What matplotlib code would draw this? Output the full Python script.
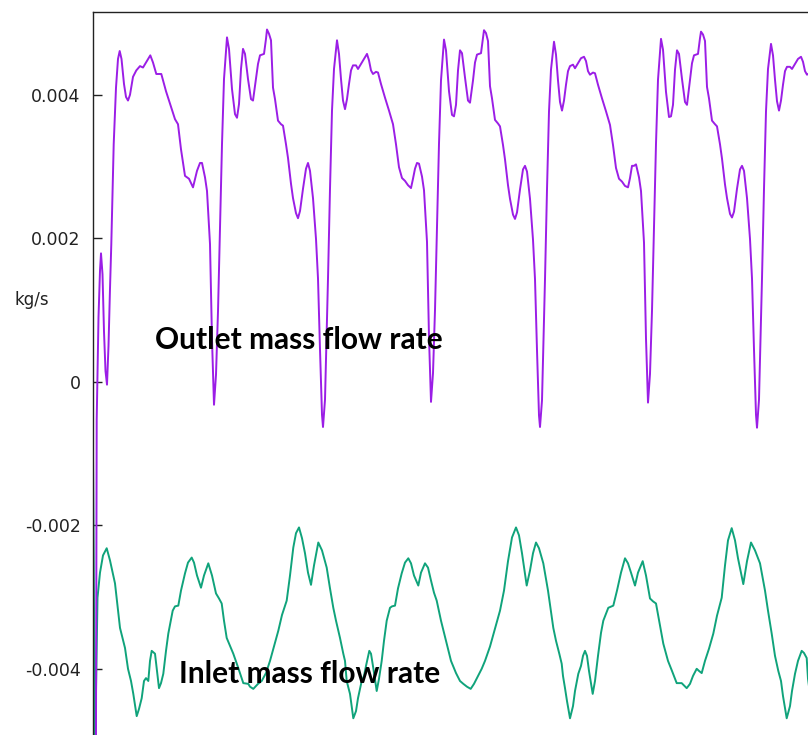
import numpy as np
import matplotlib
matplotlib.use("Agg")
import matplotlib.pyplot as plt

# ---------------- data (time in ms, flow in g/s -> converted to kg/s) ----------------
# Outlet mass flow rate (purple)
outlet_t_start = [0.0, 0.28, 0.37, 0.55, 0.7, 0.8, 0.95, 1.1, 1.25, 1.4,
                  1.55, 1.7, 1.83, 2.07, 2.3, 2.5, 2.67, 2.85, 3.1, 3.3,
                  3.5, 3.7, 4.0, 4.33, 4.7, 5.0, 5.3, 5.73, 6.0, 6.33,
                  6.83, 7.3, 7.83, 8.2, 8.5, 8.8, 9.2, 9.6, 10.0, 10.4]
outlet_v_start = [-6.5, -6.0, -0.53, 0.90, 1.55, 1.79, 1.50, 0.70, 0.15, -0.04,
                  0.50, 1.30, 1.92, 3.31, 4.10, 4.50, 4.61, 4.50, 4.15, 3.97,
                  3.92, 4.00, 4.25, 4.34, 4.40, 4.38, 4.45, 4.55, 4.45, 4.29,
                  4.29, 4.05, 3.82, 3.66, 3.59, 3.24, 2.87, 2.83, 2.71, 2.94]

outlet_t_c1 = [10.7, 10.9, 11.2, 11.4, 11.7, 11.9, 12.1, 12.3, 12.5, 12.7,
               12.9, 13.1, 13.4, 13.6, 13.9, 14.2, 14.4, 14.6, 14.8, 15.0,
               15.2, 15.5, 15.8, 16.0, 16.3, 16.5, 16.7, 17.1, 17.3, 17.4,
               17.6, 17.8, 17.9, 18.0, 18.2, 18.5, 18.8, 19.0, 19.3, 19.5,
               19.8, 20.0, 20.3, 20.5, 20.7, 21.0, 21.3, 21.5, 21.7, 22.0,
               22.3, 22.5, 22.7, 22.9, 23.0, 23.2, 23.4, 23.5, 23.7, 23.9,
               24.1, 24.4, 24.6, 24.8, 25.0, 25.2, 25.4, 25.6, 25.8, 26.0,
               26.3, 26.5, 26.8, 27.1, 27.4, 27.6, 27.8, 28.0, 28.3, 28.5,
               28.8, 29.2, 29.6, 30.0, 30.3, 30.6, 30.9, 31.2, 31.5, 31.8,
               32.0, 32.2]
outlet_v_c1 = [3.05, 3.05, 2.85, 2.66, 1.92, 0.59, -0.32, 0.10, 0.98, 2.13,
               3.31, 4.22, 4.80, 4.64, 4.08, 3.73, 3.68, 3.87, 4.36, 4.64,
               4.57, 4.22, 3.94, 3.92, 4.22, 4.43, 4.55, 4.57, 4.78, 4.91,
               4.85, 4.76, 4.43, 4.10, 3.94, 3.64, 3.59, 3.57, 3.31, 3.12,
               2.76, 2.56, 2.35, 2.28, 2.38, 2.69, 2.97, 3.05, 2.94, 2.56,
               1.99, 1.44, 0.45, -0.46, -0.63, -0.25, 0.87, 1.44, 2.69, 3.78,
               4.36, 4.76, 4.57, 4.22, 3.92, 3.80, 3.94, 4.15, 4.34, 4.41,
               4.41, 4.36, 4.43, 4.50, 4.57, 4.48, 4.34, 4.29, 4.32, 4.31,
               4.15, 3.96, 3.78, 3.59, 3.31, 2.99, 2.84, 2.80, 2.74, 2.70,
               2.83, 2.97]

outlet_t_c2 = [32.4, 32.6, 32.9, 33.1, 33.4, 33.6, 33.8, 34.0, 34.2, 34.4,
               34.6, 34.8, 35.1, 35.3, 35.6, 35.9, 36.1, 36.3, 36.5, 36.7,
               36.9, 37.2, 37.5, 37.7, 38.0, 38.2, 38.4, 38.8, 39.0, 39.1,
               39.3, 39.5, 39.6, 39.7, 39.9, 40.2, 40.5, 40.7, 41.0, 41.2,
               41.5, 41.7, 42.0, 42.2, 42.4, 42.7, 43.0, 43.2, 43.4, 43.7,
               44.0, 44.2, 44.4, 44.6, 44.7, 44.9, 45.1, 45.2, 45.4, 45.6,
               45.8, 46.1, 46.3, 46.5, 46.7, 46.9, 47.1, 47.3, 47.5, 47.7,
               48.0, 48.2, 48.5, 48.8, 49.1, 49.3, 49.5, 49.7, 50.0, 50.2,
               50.5, 50.9, 51.3, 51.7, 52.0, 52.3, 52.6, 52.9, 53.2, 53.5,
               53.7, 53.9]
outlet_v_c2 = [3.05, 3.04, 2.86, 2.67, 1.95, 0.62, -0.28, 0.12, 1.00, 2.15,
               3.32, 4.20, 4.77, 4.62, 4.05, 3.72, 3.70, 3.86, 4.34, 4.62,
               4.58, 4.24, 3.92, 3.89, 4.20, 4.45, 4.56, 4.58, 4.80, 4.90,
               4.86, 4.75, 4.45, 4.12, 3.95, 3.65, 3.60, 3.56, 3.30, 3.10,
               2.74, 2.55, 2.33, 2.27, 2.36, 2.68, 2.96, 3.01, 2.93, 2.55,
               1.98, 1.43, 0.44, -0.47, -0.63, -0.26, 0.86, 1.43, 2.68, 3.77,
               4.35, 4.74, 4.56, 4.20, 3.90, 3.78, 3.92, 4.14, 4.33, 4.40,
               4.42, 4.37, 4.44, 4.51, 4.53, 4.47, 4.33, 4.28, 4.31, 4.30,
               4.14, 3.95, 3.77, 3.58, 3.30, 2.98, 2.83, 2.79, 2.73, 2.71,
               2.84, 3.01]

outlet_t_c3 = [54.1, 54.3, 54.6, 54.8, 55.1, 55.3, 55.5, 55.7, 55.9, 56.1,
               56.3, 56.5, 56.8, 57.0, 57.3, 57.6, 57.8, 58.0, 58.2, 58.4,
               58.6, 58.9, 59.2, 59.4, 59.7, 59.9, 60.1, 60.5, 60.7, 60.8,
               61.0, 61.2, 61.3, 61.4, 61.6, 61.9, 62.2, 62.4, 62.7, 62.9,
               63.2, 63.4, 63.7, 63.9, 64.1, 64.4, 64.7, 64.9, 65.1, 65.4,
               65.7, 65.9, 66.1, 66.3, 66.4, 66.6, 66.8, 66.9, 67.1, 67.3,
               67.5, 67.8, 68.0, 68.2, 68.4, 68.6, 68.8, 69.0, 69.2, 69.4,
               69.7, 69.9, 70.2, 70.5, 70.8, 71.0, 71.2, 71.4, 71.7, 71.9,
               72.2, 72.6]
outlet_v_c3 = [3.01, 3.03, 2.85, 2.66, 1.94, 0.60, -0.29, 0.11, 0.99, 2.14,
               3.32, 4.21, 4.78, 4.63, 4.04, 3.69, 3.70, 3.86, 4.35, 4.62,
               4.57, 4.22, 3.90, 3.86, 4.21, 4.44, 4.55, 4.57, 4.79, 4.88,
               4.84, 4.75, 4.44, 4.11, 3.95, 3.64, 3.59, 3.56, 3.31, 3.11,
               2.75, 2.56, 2.34, 2.29, 2.37, 2.69, 2.96, 3.01, 2.94, 2.56,
               1.99, 1.44, 0.45, -0.46, -0.64, -0.25, 0.87, 1.44, 2.69, 3.77,
               4.36, 4.71, 4.55, 4.21, 3.91, 3.78, 3.92, 4.14, 4.33, 4.39,
               4.39, 4.36, 4.43, 4.50, 4.53, 4.46, 4.33, 4.28, 4.31, 4.30,
               4.15, 3.96]

# Inlet mass flow rate (green)
inlet_t = [0.0, 0.2, 0.45, 0.7, 1.0, 1.37, 1.7, 2.2, 2.7, 3.2,
           3.5, 3.8, 4.03, 4.37, 4.6, 4.87, 5.1, 5.3, 5.53, 5.7,
           5.87, 6.2, 6.4, 6.6, 6.8, 7.03, 7.3, 7.53, 7.97, 8.2,
           8.53, 8.8, 9.2, 9.5, 9.87, 10.1, 10.4, 10.8, 11.1, 11.53,
           11.9, 12.3, 12.6, 12.87, 13.1, 13.37, 13.7, 14.03, 14.53, 15.03,
           15.53, 15.7, 16.03, 16.5, 16.87, 17.3, 17.7, 18.1, 18.53, 18.9,
           19.37, 19.7, 20.03, 20.3, 20.6, 20.9, 21.2, 21.5, 21.8, 22.1,
           22.53, 22.9, 23.37, 23.7, 24.03, 24.3, 24.7, 25.03, 25.2, 25.37,
           25.5, 25.7, 26.03, 26.3, 26.5, 26.87, 27.1, 27.3, 27.63, 27.8,
           28.03, 28.37, 28.6, 28.87, 29.1, 29.37, 29.7, 29.9, 30.2, 30.5,
           30.87, 31.2, 31.53, 31.8, 32.1, 32.53, 32.8, 33.2, 33.5, 33.8,
           34.1, 34.37, 34.8, 35.37, 35.8, 36.3, 36.7, 37.03, 37.4, 37.77,
           38.1, 38.5, 38.87, 39.2, 39.7, 40.2, 40.7, 41.1, 41.5, 41.9,
           42.3, 42.6, 42.9, 43.37, 43.7, 44.0, 44.3, 44.6, 45.03, 45.5,
           46.03, 46.3, 46.63, 46.87, 47.0, 47.2, 47.4, 47.7, 48.0, 48.2,
           48.53, 48.8, 49.0, 49.2, 49.4, 49.6, 49.97, 50.2, 50.5, 50.8,
           51.03, 51.53, 52.03, 52.4, 52.8, 53.2, 53.5, 53.8, 54.2, 54.5,
           54.97, 55.3, 55.7, 56.0, 56.3, 56.7, 57.03, 57.5, 57.9, 58.37,
           58.87, 59.37, 59.7, 60.0, 60.37, 60.6, 60.87, 61.2, 61.6, 62.03,
           62.4, 62.87, 63.2, 63.5, 63.87, 64.2, 64.5, 65.03, 65.4, 65.8,
           66.2, 66.7, 67.2, 67.5, 67.87, 68.2, 68.53, 68.8, 69.0, 69.37,
           69.7, 69.9, 70.2, 70.5, 70.87, 71.1, 71.37, 71.5, 71.7]
inlet_v = [-0.99, -5.20, -3.01, -2.66, -2.42, -2.32, -2.49, -2.81, -3.43, -3.71,
           -4.00, -4.17, -4.35, -4.66, -4.56, -4.41, -4.17, -4.13, -4.17, -3.89,
           -3.75, -3.79, -4.03, -4.27, -4.20, -4.07, -3.75, -3.51, -3.19, -3.13,
           -3.12, -2.91, -2.67, -2.52, -2.45, -2.52, -2.70, -2.87, -2.70, -2.53,
           -2.70, -2.95, -3.02, -3.09, -3.33, -3.57, -3.68, -3.79, -3.99, -4.20,
           -4.21, -4.25, -4.28, -4.21, -4.17, -4.06, -3.89, -3.69, -3.47, -3.25,
           -3.05, -2.70, -2.31, -2.11, -2.03, -2.18, -2.39, -2.66, -2.83, -2.56,
           -2.24, -2.35, -2.59, -2.88, -3.15, -3.33, -3.57, -3.79, -3.89, -4.17,
           -4.24, -4.35, -4.69, -4.59, -4.41, -4.17, -4.10, -3.96, -3.75, -3.79,
           -3.99, -4.31, -4.14, -3.89, -3.61, -3.33, -3.15, -3.13, -3.12, -2.88,
           -2.67, -2.52, -2.46, -2.53, -2.70, -2.84, -2.66, -2.53, -2.59, -2.77,
           -2.94, -3.05, -3.33, -3.65, -3.89, -4.06, -4.17, -4.21, -4.25, -4.28,
           -4.21, -4.10, -4.00, -3.89, -3.69, -3.44, -3.19, -2.91, -2.50, -2.17,
           -2.03, -2.14, -2.39, -2.84, -2.63, -2.39, -2.24, -2.32, -2.53, -2.91,
           -3.43, -3.61, -3.79, -3.93, -4.10, -4.27, -4.45, -4.69, -4.52, -4.31,
           -4.07, -3.96, -3.82, -3.75, -3.82, -4.03, -4.35, -4.17, -3.82, -3.50,
           -3.33, -3.15, -3.12, -2.91, -2.66, -2.46, -2.53, -2.66, -2.84, -2.66,
           -2.50, -2.70, -3.02, -3.06, -3.09, -3.40, -3.65, -3.89, -4.03, -4.20,
           -4.20, -4.27, -4.21, -4.10, -4.00, -4.03, -4.06, -3.89, -3.72, -3.51,
           -3.26, -3.01, -2.56, -2.21, -2.04, -2.21, -2.46, -2.82, -2.50, -2.24,
           -2.35, -2.53, -2.91, -3.19, -3.51, -3.82, -4.03, -4.17, -4.38, -4.69,
           -4.52, -4.31, -4.07, -3.89, -3.75, -3.78, -3.85, -4.14, -4.35]

y_ticks = [0.004, 0.002, 0.0, -0.002, -0.004]
y_tick_labels = ["0.004", "0.002", "0", "-0.002", "-0.004"]
unit_label = "kg/s"
outlet_label = "Outlet mass flow rate"
inlet_label = "Inlet mass flow rate"

# ---------------- figure ----------------
W, H = 808, 735
fig = plt.figure(figsize=(W / 100, H / 100), dpi=100)
fig.patch.set_facecolor("white")

ax = fig.add_axes([93 / W, 0.0, (W - 93) / W, (H - 12) / H])

outlet_t = np.concatenate([outlet_t_start, outlet_t_c1, outlet_t_c2, outlet_t_c3])
outlet_v = np.concatenate([outlet_v_start, outlet_v_c1, outlet_v_c2, outlet_v_c3]) * 1e-3
inlet_tt = np.array(inlet_t)
inlet_vv = np.array(inlet_v) * 1e-3

ax.plot(inlet_tt, inlet_vv, color="#10a37b", lw=1.4, solid_joinstyle="round")
ax.plot(outlet_t, outlet_v, color="#9b1ee6", lw=1.4, solid_joinstyle="round")

ax.set_xlim(0, 71.5)
ax.set_ylim(-0.004923, 0.005154)

for s in ("right", "bottom"):
    ax.spines[s].set_visible(False)
for s in ("left", "top"):
    ax.spines[s].set_color("#222222")
    ax.spines[s].set_linewidth(1.0)

ax.set_xticks([])
ax.set_yticks(y_ticks)
ax.set_yticklabels(y_tick_labels)
ax.tick_params(axis="y", direction="in", length=6.5, width=1.0, pad=9,
               labelsize=12.5, colors="#222222", labelcolor="#222222")

fig.text(15 / W, 1 - 300 / H, unit_label, fontsize=12, ha="left", va="center",
         color="#222222")
ax.text((155 - 93) / (W - 93), 1 - (340 - 12) / (H - 12), outlet_label,
        transform=ax.transAxes, fontsize=21.5, fontweight="bold", family="Lato",
        ha="left", va="center", color="black")
ax.text((179 - 93) / (W - 93), 1 - (674 - 12) / (H - 12), inlet_label,
        transform=ax.transAxes, fontsize=21.5, fontweight="bold", family="Lato",
        ha="left", va="center", color="black")

fig.savefig("out.png", dpi=100)
